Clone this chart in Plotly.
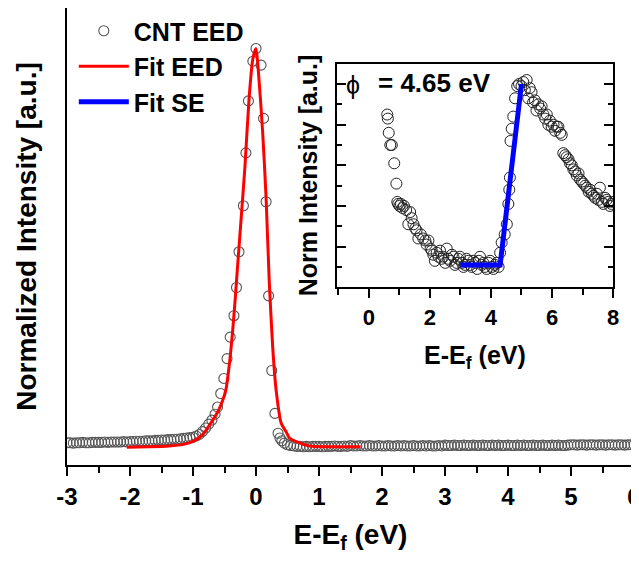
import plotly.graph_objects as go
import numpy as np

# ---------------- main plot data ----------------
left_base_x = np.round(np.arange(-3.00, -0.749, 0.05), 2)
left_base_y = [0.003, 0.003, 0.002, 0.003, 0.003, 0.004, 0.003, 0.003, 0.004, 0.004,
               0.004, 0.004, 0.005, 0.004, 0.005, 0.005, 0.005, 0.005, 0.006, 0.005, 0.006,
               0.006, 0.007, 0.007, 0.007, 0.008, 0.008, 0.008, 0.009, 0.009, 0.010,
               0.010, 0.011, 0.011, 0.012, 0.012, 0.013, 0.014, 0.015, 0.016, 0.017,
               0.020, 0.024, 0.031, 0.040, 0.050]

peak_x = [-0.70, -0.65, -0.61, -0.56, -0.51, -0.46, -0.41, -0.35, -0.31, -0.27, -0.20, -0.16,
          -0.12, -0.05, 0.00, 0.08, 0.12, 0.16, 0.20, 0.25, 0.30, 0.35, 0.38, 0.41, 0.45]
peak_y = [0.060, 0.075, 0.093, 0.127, 0.165, 0.215, 0.269, 0.323, 0.394, 0.484, 0.600, 0.733,
          0.864, 0.964, 0.996, 0.954, 0.820, 0.610, 0.373, 0.185, 0.077, 0.027, 0.015, 0.008, 0.002]

right_base_x = np.round(np.arange(0.50, 6.001, 0.05), 2)
right_base_y = [-0.002, -0.004, -0.005, -0.006, -0.006, -0.007, -0.006, -0.007, -0.006, -0.006,
                -0.006, -0.007, -0.006, -0.006, -0.006, -0.005, -0.006, -0.006, -0.005, -0.006,
                -0.004, -0.005, -0.005, -0.004, -0.005, -0.005, -0.004, -0.005, -0.005, -0.004,
                -0.005, -0.005, -0.004, -0.005, -0.005, -0.004, -0.005, -0.004, -0.005, -0.005,
                -0.004, -0.005, -0.005, -0.004, -0.005, -0.004, -0.005, -0.005, -0.004, -0.005,
                -0.003, -0.004, -0.004, -0.003, -0.004, -0.004, -0.003, -0.004, -0.004, -0.003,
                -0.004, -0.004, -0.003, -0.004, -0.004, -0.003, -0.004, -0.003, -0.004, -0.004,
                -0.003, -0.004, -0.004, -0.003, -0.004, -0.003, -0.004, -0.004, -0.003, -0.004,
                -0.004, -0.003, -0.004, -0.004, -0.003, -0.004, -0.003, -0.004, -0.004, -0.003,
                -0.002, -0.002, -0.003, -0.002, -0.002, -0.003, -0.002, -0.002, -0.003, -0.002,
                -0.002, -0.003, -0.002, -0.002, -0.003, -0.002, -0.002, -0.003, -0.002, -0.002,
                -0.002]

eed_x = list(left_base_x) + peak_x + list(right_base_x)
eed_y = left_base_y + peak_y + right_base_y

fit_eed_x = [-2.05, -1.70, -1.38, -1.15, -1.01, -0.85, -0.72, -0.61, -0.54, -0.48, -0.42, -0.37,
             -0.33, -0.29, -0.23, -0.175, -0.11, -0.05, 0.00, 0.03, 0.105, 0.16, 0.21, 0.265,
             0.32, 0.40, 0.48, 0.53, 0.64, 0.85, 1.20, 1.66]
fit_eed_y = [-0.008, -0.007, -0.005, -0.001, 0.006, 0.023, 0.052, 0.080, 0.105, 0.135, 0.205, 0.286,
             0.365, 0.453, 0.580, 0.700, 0.870, 0.970, 0.996, 0.955, 0.787, 0.620, 0.410, 0.244,
             0.135, 0.052, 0.030, 0.015, 0.006, -0.005, -0.007, -0.007]

# ---------------- inset data ----------------
inset_points = [
    (0.60, 0.85), (0.62, 0.83), (0.65, 0.76), (0.70, 0.70), (0.75, 0.70), (0.83, 0.61),
    (0.90, 0.51), (0.93, 0.42), (0.96, 0.41), (1.00, 0.40), (1.05, 0.41), (1.10, 0.39),
    (1.15, 0.40), (1.22, 0.38), (1.29, 0.31), (1.35, 0.37), (1.40, 0.34), (1.46, 0.31),
    (1.52, 0.29), (1.56, 0.28), (1.62, 0.24), (1.70, 0.26), (1.78, 0.24), (1.85, 0.23),
    (1.89, 0.21), (1.95, 0.23), (2.02, 0.19), (2.06, 0.18), (2.11, 0.16), (2.16, 0.13),
    (2.22, 0.17), (2.28, 0.15), (2.33, 0.18), (2.38, 0.14), (2.44, 0.15), (2.50, 0.12),
    (2.55, 0.19), (2.60, 0.14), (2.66, 0.13), (2.72, 0.16), (2.77, 0.15), (2.82, 0.11),
    (2.88, 0.12), (2.93, 0.14), (2.98, 0.15), (3.05, 0.12), (3.10, 0.10), (3.15, 0.11),
    (3.20, 0.14), (3.26, 0.13), (3.32, 0.11), (3.37, 0.10), (3.42, 0.13), (3.48, 0.12),
    (3.55, 0.09), (3.60, 0.13), (3.64, 0.15), (3.70, 0.11), (3.75, 0.12), (3.80, 0.10),
    (3.86, 0.09), (3.92, 0.12), (3.97, 0.13), (4.03, 0.10), (4.08, 0.09), (4.13, 0.11),
    (4.19, 0.12), (4.25, 0.10), (4.30, 0.17), (4.35, 0.22), (4.45, 0.26), (4.52, 0.31),
    (4.57, 0.41), (4.60, 0.48), (4.62, 0.54), (4.64, 0.72), (4.68, 0.78), (4.73, 0.84),
    (4.79, 0.93), (4.86, 0.99), (4.92, 1.00), (5.00, 0.99), (5.06, 1.01), (5.11, 0.97),
    (5.17, 1.02), (5.22, 0.93), (5.27, 0.98), (5.33, 0.96), (5.38, 0.91), (5.44, 0.92),
    (5.49, 0.87), (5.55, 0.90), (5.61, 0.88), (5.66, 0.89), (5.72, 0.85), (5.78, 0.83),
    (5.83, 0.85), (5.88, 0.80), (5.93, 0.82), (5.99, 0.79), (6.05, 0.80), (6.10, 0.77),
    (6.16, 0.79), (6.21, 0.79), (6.27, 0.76), (6.32, 0.75), (6.37, 0.66), (6.43, 0.65),
    (6.48, 0.64), (6.54, 0.63), (6.59, 0.61), (6.65, 0.60), (6.70, 0.58), (6.76, 0.57),
    (6.81, 0.55), (6.87, 0.56), (6.92, 0.53), (6.98, 0.52), (7.03, 0.51), (7.09, 0.50),
    (7.14, 0.49), (7.20, 0.47), (7.25, 0.48), (7.30, 0.46), (7.36, 0.45), (7.41, 0.44),
    (7.47, 0.46), (7.52, 0.43), (7.57, 0.49), (7.63, 0.42), (7.68, 0.41), (7.74, 0.44),
    (7.79, 0.43), (7.84, 0.42), (7.90, 0.40), (7.95, 0.41), (8.00, 0.42),
]
inset_x = [p[0] for p in inset_points]
inset_y = [p[1] for p in inset_points]

fit_se_x = [3.0, 4.3, 5.0]
fit_se_y = [0.11, 0.11, 1.0]

main_ticks = [-3, -2, -1, 0, 1, 2, 3, 4, 5, 6]
main_tick_labels = ["-3", "-2", "-1", "0", "1", "2", "3", "4", "5", "6"]
inset_ticks = [0, 2, 4, 6, 8]
inset_tick_labels = ["0", "2", "4", "6", "8"]

FONT = "Arial, Liberation Sans, sans-serif"


def bf(size):
    return dict(family=FONT, size=size, color="black", weight="bold")


fig = go.Figure()
fig.add_trace(go.Scatter(
    x=eed_x, y=eed_y, mode="markers", name="CNT EED", legendgroup="a",
    marker=dict(symbol="circle-open", size=10, color="#555555", line=dict(width=1.1)),
    xaxis="x", yaxis="y"))
fig.add_trace(go.Scatter(
    x=fit_eed_x, y=fit_eed_y, mode="lines", name="Fit EED", legendgroup="b",
    line=dict(color="#ff0000", width=3, shape="spline", smoothing=0.6),
    xaxis="x", yaxis="y"))
fig.add_trace(go.Scatter(
    x=inset_x, y=inset_y, mode="markers", showlegend=False,
    marker=dict(symbol="circle-open", size=11, color="#222222", line=dict(width=1)),
    xaxis="x2", yaxis="y2"))
fig.add_trace(go.Scatter(
    x=fit_se_x, y=fit_se_y, mode="lines", name="Fit SE", legendgroup="c",
    line=dict(color="#0000ff", width=5),
    xaxis="x2", yaxis="y2"))

fig.update_layout(
    template="none",
    width=631, height=547,
    margin=dict(l=59, r=5, t=0, b=90, autoexpand=False),
    paper_bgcolor="white", plot_bgcolor="white",
    font=bf(20),
    showlegend=True,
    legend=dict(x=0.012, y=1.0, xanchor="left", yanchor="top", bgcolor="rgba(0,0,0,0)",
                font=bf(25), itemwidth=50, tracegroupgap=0),
    xaxis=dict(domain=[0, 1], range=[-3, 6], tickvals=main_ticks, ticktext=main_tick_labels,
               automargin=False, ticklabeloverflow="allow",
               ticks="outside", ticklen=9, tickwidth=2, tickcolor="black",
               minor=dict(ticks="outside", ticklen=6, tickwidth=2, dtick=0.5, tick0=0, tickcolor="black"),
               showline=True, linewidth=2, linecolor="black", mirror=True,
               showgrid=False, zeroline=False,
               tickfont=bf(24),
               title=dict(text="E-E<sub>f</sub> (eV)", standoff=16, font=bf(28))),
    yaxis=dict(domain=[0, 1], range=[-0.053, 1.098], automargin=False,
               showticklabels=False, ticks="",
               showline=True, linewidth=2, linecolor="black", mirror=True,
               showgrid=False, zeroline=False,
               title=dict(text="Normalized Intensity [a.u.]", standoff=20, font=bf(28))),
    xaxis2=dict(domain=[0.476, 0.963], range=[-1.05, 8], anchor="y2", tickvals=inset_ticks,
                ticktext=inset_tick_labels, automargin=False,
                ticks="outside", ticklen=9, tickwidth=2, tickcolor="black",
                minor=dict(ticks="outside", ticklen=6, tickwidth=2, dtick=1, tick0=0, tickcolor="black"),
                showline=True, linewidth=2, linecolor="black", mirror=True,
                showgrid=False, zeroline=False,
                tickfont=bf(22),
                title=dict(text="E-E<sub>f</sub> (eV)", standoff=18, font=bf(25))),
    yaxis2=dict(domain=[0.389, 0.878], range=[0, 1.1], anchor="x2", automargin=False,
                dtick=0.2, tick0=0, showticklabels=False,
                ticks="inside", ticklen=9, tickwidth=2, tickcolor="black",
                minor=dict(ticks="inside", ticklen=5, tickwidth=2, dtick=0.1, tick0=0, tickcolor="black"),
                showline=True, linewidth=2, linecolor="black", mirror="ticks",
                showgrid=False, zeroline=False,
                title=dict(text="Norm Intensity [a.u.]", standoff=10, font=bf(25))),
    annotations=[
        dict(text="ϕ", xref="x2 domain", yref="y2 domain", x=0.025, y=0.905,
             xanchor="left", yanchor="middle", showarrow=False,
             font=dict(family=FONT, size=25, color="black", weight="normal")),
        dict(text="= 4.65 eV", xref="x2 domain", yref="y2 domain", x=0.143, y=0.915,
             xanchor="left", yanchor="middle", showarrow=False,
             font=bf(26)),
    ],
)

fig.write_html("out.html")
